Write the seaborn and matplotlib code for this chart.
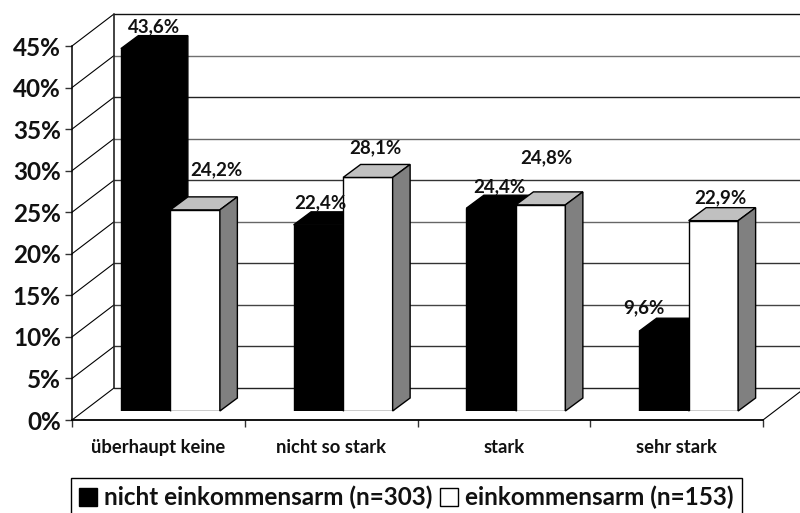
import matplotlib
matplotlib.use("Agg")
import matplotlib.pyplot as plt
from matplotlib.patches import Polygon
import pandas as pd
import seaborn as sns

categories = ["überhaupt keine", "nicht so stark", "stark", "sehr stark"]
series_names = ["nicht einkommensarm (n=303)", "einkommensarm (n=153)"]
not_poor = [43.6, 22.4, 24.4, 9.6]
poor = [24.2, 28.1, 24.8, 22.9]
y_ticks = [0, 5, 10, 15, 20, 25, 30, 35, 40, 45]

# label offsets from the bar top in pixels, excel put them in odd places
not_poor_nudge = [(8, 22), (2, 22), (8, 21), (-20, 23)]
poor_nudge = [(21, 40), (8, 30), (6, 47), (7, 23)]

W, H = 800, 513
FONT = "Lato"

sns.set_theme(style="white")
plt.rcParams["font.family"] = [FONT, "DejaVu Sans"]
plt.rcParams["font.weight"] = "bold"

df = pd.DataFrame({
    "category": categories * 2,
    "series": [series_names[0]] * 4 + [series_names[1]] * 4,
    "value": not_poor + poor,
})

fig = plt.figure(figsize=(W / 100, H / 100), dpi=100, facecolor="white")


def px_axes(left, right, top, bottom):
    return fig.add_axes([left / W, (H - bottom) / H, (right - left) / W, (bottom - top) / H])


# front plane of the fake 3d box, the bars sit a bit further back
ax = px_axes(72, 763, 46, 420)
ax_bars = px_axes(84, 775, 37, 411)
ax_bars.patch.set_visible(False)

for a in (ax, ax_bars):
    a.set_xlim(-0.5, 3.5)
    a.set_ylim(0, 45)

px_x = 4 / 691
px_y = 45 / 374
depth_x, depth_y = 42 * px_x, 32 * px_y
wall_left = -0.5 + depth_x

# back wall and side wall
line_cols = ["#222222", "#333333", "#444444", "#333333", "#666666",
             "#333333", "#666666", "#222222", "#707070", "#111111"]
for tick, col in zip(y_ticks, line_cols):
    ax.plot([wall_left, 3.5 + depth_x], [tick + depth_y] * 2, color=col, lw=1.0, clip_on=False, zorder=1)
    ax.plot([-0.5, wall_left], [tick, tick + depth_y], color="black", lw=0.8, clip_on=False, zorder=1)
ax.plot([wall_left, wall_left], [depth_y, 45 + depth_y], color="#222222", lw=1.2, clip_on=False, zorder=1)
ax.plot([3.5, 3.5 + depth_x], [0, depth_y], color="black", lw=0.8, clip_on=False, zorder=1)

sns.despine(ax=ax, top=True, right=True)
ax.spines["left"].set_linewidth(1.1)
ax.spines["bottom"].set_linewidth(1.3)
ax.spines["left"].set_color("black")
ax.spines["bottom"].set_color("black")
ax.patch.set_visible(False)
ax.set_yticks(y_ticks)
ax.set_yticklabels([f"{t}%" for t in y_ticks], fontsize=17.5)
ax.set_xticks(range(4))
ax.set_xticklabels(categories, fontsize=13.2)
ax.set_xticks([-0.5, 0.5, 1.5, 2.5, 3.5], minor=True)
ax.tick_params(axis="y", left=True, length=5, width=1, color="#333333", pad=3, colors="#111111")
ax.tick_params(axis="x", which="major", bottom=False, pad=8, colors="#111111")
ax.tick_params(axis="x", which="minor", bottom=True, length=5, width=1, color="#333333")

sns.barplot(data=df, x="category", y="value", hue="series", order=categories, hue_order=series_names,
            palette=["black", "white"], width=99 / 172.75, gap=0, edgecolor="black", linewidth=1.0,
            saturation=1, ax=ax_bars)
ax_bars.set_xlim(-0.5, 3.5)
ax_bars.set_ylim(0, 45)
ax_bars.set_axis_off()

legend_handles, legend_labels = ax_bars.get_legend_handles_labels()
ax_bars.get_legend().remove()

bar_dx = 17.5 * px_x
bar_dy = 13 * px_y
bars = [b for b in ax_bars.patches if b.get_height() > 0]
nudges = not_poor_nudge + poor_nudge
values = not_poor + poor

for i, (bar, val, nudge) in enumerate(zip(bars, values, nudges)):
    is_poor = i >= 4
    z = 4 if is_poor else 3
    x0, x1 = bar.get_x(), bar.get_x() + bar.get_width()
    top = bar.get_height()
    bar.set_zorder(z)
    top_face = [(x0, top), (x1, top), (x1 + bar_dx, top + bar_dy), (x0 + bar_dx, top + bar_dy)]
    side_face = [(x1, 0), (x1 + bar_dx, bar_dy), (x1 + bar_dx, top + bar_dy), (x1, top)]
    ax_bars.add_patch(Polygon(top_face, closed=True, facecolor="#c0c0c0" if is_poor else "black",
                              edgecolor="black", lw=1.0, zorder=z, clip_on=False))
    ax_bars.add_patch(Polygon(side_face, closed=True, facecolor="#808080" if is_poor else "black",
                              edgecolor="black", lw=1.0, zorder=z, clip_on=False))
    ax_bars.annotate(f"{val:.1f}%".replace(".", ","), ((x0 + x1) / 2, top), xytext=nudge,
                     textcoords="offset pixels", ha="center", va="center", fontsize=13.5,
                     color="#111111", zorder=6, annotation_clip=False)

fig.legend(legend_handles, legend_labels, loc="upper left", bbox_to_anchor=(71 / W, (H - 478) / H),
           bbox_transform=fig.transFigure, ncol=2, fontsize=17.5, frameon=True, fancybox=False,
           edgecolor="black", framealpha=1, borderaxespad=0, borderpad=0.32, handlelength=0.75,
           handleheight=0.75, handletextpad=0.3, columnspacing=0.3, labelcolor="#111111")

fig.savefig("out.png", dpi=100)
